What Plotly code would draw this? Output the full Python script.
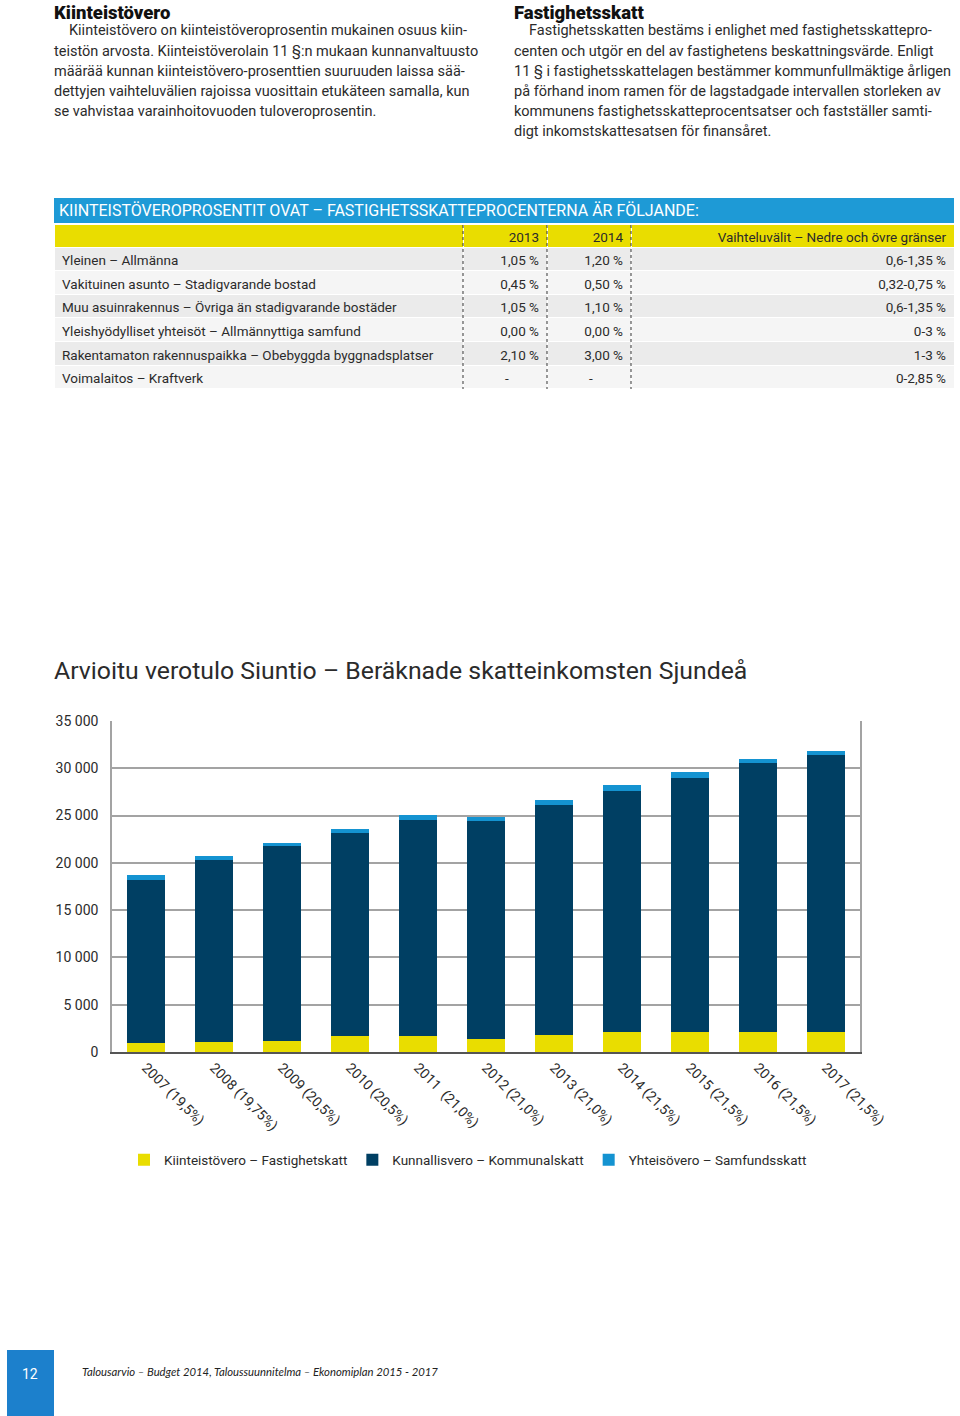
import plotly.graph_objects as go

W, H = 960, 1416
FONT = "Roboto"
TXT = "#2b2b2b"
YELLOW = "#e9dd00"
NAVY = "#003f63"
LIGHT = "#1493d1"
HEADBLUE = "#1e9ad6"

# ---------------- data ----------------
years = ["2007 (19,5%)", "2008 (19,75%)", "2009 (20,5%)", "2010 (20,5%)",
         "2011\u00a0 (21,0%)", "2012 (21,0%)", "2013 (21,0%)", "2014 (21,5%)",
         "2015 (21,5%)", "2016 (21,5%)", "2017 (21,5%)"]
fastighetsskatt = [900, 1050, 1200, 1700, 1700, 1350, 1750, 2100, 2100, 2100, 2100]
kommunalskatt = [17250, 19300, 20620, 21470, 22880, 23120, 24400, 25550, 26890, 28450, 29260]
samfundsskatt = [550, 420, 290, 420, 530, 360, 460, 600, 610, 380, 420]
series_names = ["Kiinteistövero – Fastighetskatt", "Kunnallisvero – Kommunalskatt",
                "Yhteisövero – Samfundsskatt"]
y_ticks = [0, 5000, 10000, 15000, 20000, 25000, 30000, 35000]

table_title = "KIINTEISTÖVEROPROSENTIT OVAT – FASTIGHETSSKATTEPROCENTERNA ÄR FÖLJANDE:"
table_header = ["", "2013", "2014", "Vaihteluvälit – Nedre och övre gränser"]
row_labels = ["Yleinen – Allmänna",
              "Vakituinen asunto – Stadigvarande bostad",
              "Muu asuinrakennus – Övriga än stadigvarande bostäder",
              "Yleishyödylliset yhteisöt – Allmännyttiga samfund",
              "Rakentamaton rakennuspaikka – Obebyggda byggnadsplatser",
              "Voimalaitos – Kraftverk"]
pct_2013 = ["1,05 %", "0,45 %", "1,05 %", "0,00 %", "2,10 %", "-\u2007\u2007\u2007\u2007"]
pct_2014 = ["1,20 %", "0,50 %", "1,10 %", "0,00 %", "3,00 %", "-\u2007\u2007\u2007\u2007"]
ranges = ["0,6-1,35 %", "0,32-0,75 %", "0,6-1,35 %", "0-3 %", "1-3 %", "0-2,85 %"]

left_heading = "Kiinteistövero"
left_lines = ["Kiinteistövero on kiinteistöveroprosentin mukainen osuus kiin-",
              "teistön arvosta. Kiinteistöverolain 11 §:n mukaan kunnanvaltuusto",
              "määrää kunnan kiinteistövero-prosenttien suuruuden laissa sää-",
              "dettyjen vaihteluvälien rajoissa vuosittain etukäteen samalla, kun",
              "se vahvistaa varainhoitovuoden tuloveroprosentin."]
right_heading = "Fastighetsskatt"
right_lines = ["Fastighetsskatten bestäms i enlighet med fastighetsskattepro-",
               "centen och utgör en del av fastighetens beskattningsvärde. Enligt",
               "11 § i fastighetsskattelagen bestämmer kommunfullmäktige årligen",
               "på förhand inom ramen för de lagstadgade intervallen storleken av",
               "kommunens fastighetsskatteprocentsatser och fastställer samti-",
               "digt inkomstskattesatsen för finansåret."]
chart_title = "Arvioitu verotulo Siuntio – Beräknade skatteinkomsten Sjundeå"
footer_text = "Talousarvio – Budget 2014, Taloussuunnitelma – Ekonomiplan 2015 - 2017"
page_number = "12"


def px(x):
    return x / W


def py(y):
    return 1 - y / H


fig = go.Figure()

# ---------------- bar chart ----------------
for name, vals, col in zip(series_names, [fastighetsskatt, kommunalskatt, samfundsskatt],
                           [YELLOW, NAVY, LIGHT]):
    fig.add_trace(go.Bar(x=years, y=vals, name=name, marker=dict(color=col, line=dict(width=0)),
                         xaxis="x", yaxis="y"))

# ---------------- table ----------------
col_w = [409, 84, 84, 323]
tbl_left, tbl_top = 54, 224
row_fills = ["#ebebeb" if i % 2 == 0 else "#f5f5f5" for i in range(len(row_labels))]
aligns = ["left", "right", "right", "right"]
fig.add_trace(go.Table(
    domain=dict(x=[px(tbl_left), px(tbl_left + sum(col_w))], y=[py(400), py(tbl_top)]),
    columnwidth=col_w,
    header=dict(values=table_header, fill_color=YELLOW, align=aligns, height=23,
                font=dict(family=FONT, size=13.5, color=TXT), line=dict(color="white", width=1)),
    cells=dict(values=[row_labels, pct_2013, pct_2014, ranges], fill_color=[row_fills] * 4,
               align=aligns, height=23.6,
               font=dict(family=FONT, size=13.5, color=TXT), line=dict(color="white", width=1)),
))

shapes = []
annotations = []

# table title bar
shapes.append(dict(type="rect", xref="paper", yref="paper", x0=px(54), x1=px(954),
                   y0=py(223), y1=py(198), fillcolor=HEADBLUE, line=dict(width=0), layer="below"))
annotations.append(dict(text=table_title, x=px(57), y=py(211), xref="paper", yref="paper",
                        xanchor="left", yanchor="middle", showarrow=False,
                        font=dict(family=FONT, size=16, color="white")))
# dashed column separators
xcum = tbl_left
for w in col_w[:-1]:
    xcum += w
    shapes.append(dict(type="line", xref="paper", yref="paper", x0=px(xcum), x1=px(xcum),
                       y0=py(tbl_top + 1), y1=py(389),
                       line=dict(color="#333", width=1, dash="3px,3px"), layer="above"))

# ---------------- text blocks ----------------
def text_block(x0, heading, lines):
    annotations.append(dict(text=heading, x=px(x0 - 2), y=py(0), xref="paper", yref="paper",
                            xanchor="left", yanchor="top", showarrow=False,
                            font=dict(family=FONT, size=18.5, color="#111", weight=900)))
    for i, ln in enumerate(lines):
        annotations.append(dict(text=ln, x=px(x0 - 2 + (15 if i == 0 else 0)), y=py(31 + i * 20.2),
                                xref="paper", yref="paper", xanchor="left", yanchor="middle",
                                showarrow=False, font=dict(family=FONT, size=14.5, color=TXT)))


text_block(54, left_heading, left_lines)
text_block(514, right_heading, right_lines)

annotations.append(dict(text=chart_title, x=px(52), y=py(670), xref="paper", yref="paper",
                        xanchor="left", yanchor="middle", showarrow=False,
                        font=dict(family=FONT, size=24.8, color=TXT)))

# footer
shapes.append(dict(type="rect", xref="paper", yref="paper", x0=px(7), x1=px(54),
                   y0=py(1416), y1=py(1350), fillcolor="#1c80cc", line=dict(width=0)))
annotations.append(dict(text=page_number, x=px(30), y=py(1374), xref="paper", yref="paper",
                        xanchor="center", yanchor="middle", showarrow=False,
                        font=dict(family=FONT, size=14, color="white")))
annotations.append(dict(text="<i>" + footer_text + "</i>", x=px(80), y=py(1371), xref="paper",
                        yref="paper", xanchor="left", yanchor="middle", showarrow=False,
                        font=dict(family="Lato", size=11.3, color="#222")))

fig.update_layout(
    width=W, height=H, autosize=False,
    margin=dict(l=0, r=0, t=0, b=0, pad=0, autoexpand=False),
    paper_bgcolor="white", plot_bgcolor="white",
    separators=", ",
    barmode="stack", bargap=0.44,
    font=dict(family=FONT, size=14, color=TXT),
    xaxis=dict(domain=[px(112), px(860)], tickangle=45, showgrid=False, automargin=False,
               showline=True, linecolor="#555", linewidth=2, ticks="",
               tickfont=dict(family=FONT, size=14, color=TXT)),
    yaxis=dict(domain=[py(1052), py(721)], range=[0, 35000], tickvals=y_ticks, tickformat=",d",
               showgrid=True, gridcolor="#a3a3a3", gridwidth=1.5, zeroline=False, automargin=False,
               showline=True, mirror=True, linecolor="#a3a3a3", linewidth=1.5,
               ticks="", ticklabelstandoff=9,
               tickfont=dict(family=FONT, size=14, color=TXT)),
    showlegend=True,
    legend=dict(orientation="h", x=px(124), y=py(1160), xanchor="left", yanchor="middle",
                font=dict(family=FONT, size=13.5, color=TXT), itemwidth=30, traceorder="normal",
                bgcolor="rgba(0,0,0,0)"),
    shapes=shapes, annotations=annotations,
)

fig.write_html("out.html", config={"displayModeBar": False, "responsive": False},
               post_script="document.body.style.margin='0';document.body.style.overflow='hidden';"
                           "document.documentElement.style.overflow='hidden';")
